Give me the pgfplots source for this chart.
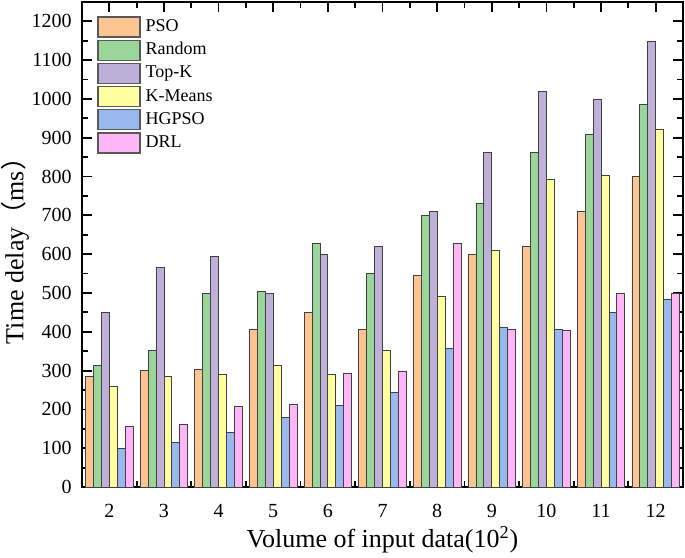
\documentclass[border=0pt]{standalone}
\usepackage{fontspec}
\setmainfont{Liberation Serif}
\newfontfamily\cjk{Noto Sans CJK SC}
\usepackage{pgfplots}
\pgfplotsset{compat=1.18}
\usepackage{pgfplotstable}

\definecolor{cPSO}{RGB}{253,196,146}
\definecolor{cRand}{RGB}{154,214,154}
\definecolor{cTop}{RGB}{190,176,216}
\definecolor{cKM}{RGB}{255,255,160}
\definecolor{cHG}{RGB}{153,185,238}
\definecolor{cDRL}{RGB}{255,182,246}

\pgfplotstableread{
x PSO Random TopK KMeans HGPSO DRL
2 285 314 450 260 99 155
3 300 352 567 285 115 162
4 303 498 594 291 141 208
5 407 505 498 313 180 212
6 451 628 599 289 211 293
7 405 551 620 351 243 299
8 546 701 711 491 357 628
9 600 731 863 611 411 405
10 620 863 1020 794 405 403
11 711 910 1000 804 450 499
12 800 986 1149 921 483 499
}\datatable

\begin{document}
\begin{tikzpicture}
\useasboundingbox (-41pt,-35pt) rectangle (301.5pt,243.5pt);
\begin{axis}[
  at={(0pt,0pt)}, anchor=south west,
  scale only axis, width=300.5pt, height=242.5pt,
  xmin=1.5, xmax=12.5, ymin=0, ymax=1250,
  ybar=0pt, bar width=0.145,
  every axis plot post/.append style={
    legend image code/.code={\draw[#1,draw=black!65,line width=0.6pt] (0pt,-5pt) rectangle (21pt,5pt);}},
  xtick={2,...,12}, minor x tick num=1,
  ytick={0,100,...,1200}, minor y tick num=1,
  tick align=inside, major tick length=5pt, minor tick length=3pt,
  every tick/.style={line width=0.9pt, black},
  axis line style={line width=1.1pt},
  tick label style={font=\fontsize{10}{12}\selectfont},
  /pgf/number format/assume math mode=true,
  /pgf/number format/1000 sep={},
  xticklabel style={yshift=-5pt},
  yticklabel style={xshift=-1.7pt},
  xlabel={Volume of input data(10\textsuperscript{2})},
  ylabel={Time delay{\cjk（}ms{\cjk）}},
  label style={font=\fontsize{13}{15}\selectfont},
  xlabel style={at={(axis description cs:0.5,-0.1093)}, anchor=center},
  ylabel style={at={(axis description cs:-0.1115,0.5)}, anchor=center},
  legend cell align=left,
  legend style={draw=none, fill=none, at={(0.025,0.971)}, anchor=north west,
    row sep=1pt, column sep=2.5pt, inner sep=0pt,
    font=\fontsize{9}{10}\selectfont,
    nodes={inner sep=0pt, text height=6.5pt, text depth=2pt}},
]
\addplot[fill=cPSO, draw=black!75, line width=0.4pt] table[x=x,y=PSO]{\datatable};
\addplot[fill=cRand, draw=black!75, line width=0.4pt] table[x=x,y=Random]{\datatable};
\addplot[fill=cTop, draw=black!75, line width=0.4pt] table[x=x,y=TopK]{\datatable};
\addplot[fill=cKM, draw=black!75, line width=0.4pt] table[x=x,y=KMeans]{\datatable};
\addplot[fill=cHG, draw=black!75, line width=0.4pt] table[x=x,y=HGPSO]{\datatable};
\addplot[fill=cDRL, draw=black!75, line width=0.4pt] table[x=x,y=DRL]{\datatable};
\legend{PSO,Random,Top-K,K-Means,HGPSO,DRL}
\end{axis}
\end{tikzpicture}
\end{document}
